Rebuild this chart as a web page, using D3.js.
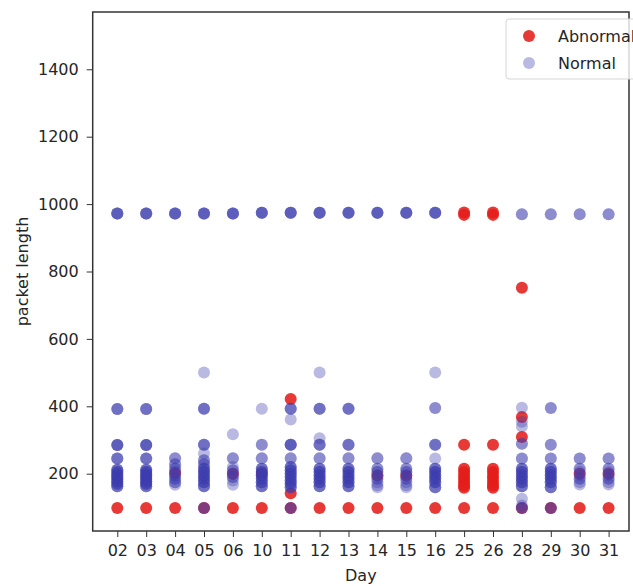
<!DOCTYPE html>
<html>
<head>
<meta charset="utf-8">
<script src="https://cdn.jsdelivr.net/npm/d3@7"></script>
<style>
    body { margin: 0; background: #fff; }
    text { font-family: "DejaVu Sans", sans-serif; fill: #262626; }
</style>
</head>
<body>
<svg id="scatter-chart" width="633" height="586"></svg>
<script>
const days = ["02", "03", "04", "05", "06", "10", "11", "12", "13", "14", "15", "16", "25", "26", "28", "29", "30", "31"];

const yTicks = [200, 400, 600, 800, 1000, 1200, 1400];

// abnormal packets: [day, packet length]
const abnormalPoints = [
    ["02", 98], ["03", 98], ["04", 98], ["05", 98], ["06", 98], ["10", 98], ["11", 98], ["12", 98], ["13", 98],
    ["14", 98], ["15", 98], ["16", 98], ["25", 98], ["26", 98], ["28", 98], ["29", 98], ["30", 98], ["31", 98],
    ["04", 202], ["06", 200], ["10", 200], ["14", 195], ["15", 195], ["30", 200], ["31", 200],
    ["11", 422], ["11", 142],
    ["25", 968], ["25", 975], ["25", 286], ["25", 215], ["25", 205], ["25", 195], ["25", 185], ["25", 175], ["25", 165], ["25", 158],
    ["26", 968], ["26", 975], ["26", 286], ["26", 215], ["26", 205], ["26", 195], ["26", 185], ["26", 175], ["26", 165], ["26", 158],
    ["28", 752], ["28", 368], ["28", 309]
];

// normal packets: [day, packet length, how many points overlap there]
const normalPoints = [
    ["02", 972, 4], ["02", 392, 3], ["02", 285, 4], ["02", 245, 3], ["02", 212, 3], ["02", 205, 3], ["02", 198, 3], ["02", 191, 3], ["02", 184, 3], ["02", 177, 3], ["02", 170, 3], ["02", 163, 3],
    ["03", 972, 4], ["03", 392, 3], ["03", 285, 4], ["03", 245, 3], ["03", 212, 3], ["03", 205, 3], ["03", 198, 3], ["03", 191, 3], ["03", 184, 3], ["03", 177, 3], ["03", 170, 3], ["03", 163, 3],
    ["04", 972, 4], ["04", 246, 2], ["04", 228, 2], ["04", 215, 2], ["04", 205, 1], ["04", 195, 2], ["04", 185, 2], ["04", 175, 2], ["04", 167, 1],
    ["05", 972, 4], ["05", 500, 1], ["05", 393, 3], ["05", 286, 3], ["05", 260, 1], ["05", 240, 2], ["05", 228, 2], ["05", 215, 3], ["05", 205, 3], ["05", 195, 3], ["05", 185, 3], ["05", 175, 3], ["05", 163, 3], ["05", 98, 2],
    ["06", 972, 4], ["06", 317, 1], ["06", 246, 2], ["06", 220, 1], ["06", 210, 2], ["06", 200, 1], ["06", 190, 2], ["06", 180, 1], ["06", 167, 1],
    ["10", 974, 4], ["10", 393, 1], ["10", 286, 2], ["10", 246, 2], ["10", 215, 3], ["10", 205, 3], ["10", 195, 3], ["10", 185, 3], ["10", 175, 3], ["10", 163, 3],
    ["11", 974, 4], ["11", 393, 3], ["11", 361, 1], ["11", 286, 4], ["11", 246, 2], ["11", 220, 3], ["11", 210, 3], ["11", 200, 3], ["11", 190, 3], ["11", 180, 3], ["11", 170, 3], ["11", 160, 3], ["11", 98, 2],
    ["12", 974, 4], ["12", 500, 1], ["12", 393, 3], ["12", 305, 1], ["12", 286, 3], ["12", 246, 2], ["12", 215, 3], ["12", 205, 3], ["12", 195, 3], ["12", 185, 3], ["12", 175, 3], ["12", 163, 3],
    ["13", 974, 4], ["13", 393, 3], ["13", 286, 3], ["13", 246, 2], ["13", 215, 3], ["13", 205, 3], ["13", 195, 3], ["13", 185, 3], ["13", 175, 3], ["13", 163, 3],
    ["14", 974, 4], ["14", 246, 2], ["14", 215, 2], ["14", 205, 2], ["14", 195, 1], ["14", 185, 2], ["14", 175, 1], ["14", 166, 1], ["14", 160, 1],
    ["15", 974, 4], ["15", 246, 2], ["15", 215, 2], ["15", 205, 2], ["15", 195, 1], ["15", 185, 2], ["15", 175, 1], ["15", 166, 1], ["15", 160, 1],
    ["16", 974, 4], ["16", 500, 1], ["16", 395, 2], ["16", 286, 3], ["16", 245, 1], ["16", 215, 3], ["16", 205, 3], ["16", 195, 3], ["16", 185, 3], ["16", 175, 3], ["16", 160, 3],
    ["28", 970, 2], ["28", 396, 1], ["28", 354, 1], ["28", 340, 1], ["28", 289, 2], ["28", 245, 2], ["28", 215, 3], ["28", 205, 3], ["28", 195, 3], ["28", 185, 3], ["28", 175, 3], ["28", 163, 3], ["28", 126, 1], ["28", 106, 1], ["28", 98, 2],
    ["29", 970, 2], ["29", 395, 2], ["29", 286, 2], ["29", 245, 2], ["29", 215, 3], ["29", 205, 3], ["29", 195, 3], ["29", 185, 3], ["29", 175, 3], ["29", 160, 3], ["29", 98, 2],
    ["30", 970, 2], ["30", 245, 2], ["30", 215, 2], ["30", 205, 1], ["30", 195, 1], ["30", 185, 2], ["30", 175, 1], ["30", 168, 1],
    ["31", 970, 2], ["31", 245, 2], ["31", 215, 2], ["31", 205, 1], ["31", 195, 1], ["31", 185, 2], ["31", 175, 1], ["31", 168, 1]
];

const seriesColors = {
    "Abnormal": "rgb(228, 30, 26)",
    "Normal": "rgb(60, 60, 175)"
};
const seriesOpacity = { "Abnormal": 0.88, "Normal": 0.36 };

const plot = { left: 92.7, right: 629, top: 12, bottom: 531 };
const radius = 6;

const svg = d3.select("#scatter-chart");

renderChart();

function renderChart() {
    const xScale = d3.scalePoint()
        .domain(days)
        .range([117.3, 608.6]);

    const yScale = d3.scaleLinear()
        .domain([30, 1570])
        .range([plot.bottom, plot.top]);

    // abnormal first, normal on top of it
    svg.append("g")
        .selectAll("circle")
        .data(abnormalPoints)
        .join("circle")
        .attr("cx", function (d) { return xScale(d[0]); })
        .attr("cy", function (d) { return yScale(d[1]); })
        .attr("r", radius)
        .style("fill", seriesColors["Abnormal"])
        .style("opacity", seriesOpacity["Abnormal"]);

    // expand overlap counts into separate circles
    let normalCircles = [];
    normalPoints.forEach(function (d) {
        for (let i = 0; i < d[2]; i++) normalCircles.push(d);
    });
    svg.append("g")
        .selectAll("circle")
        .data(normalCircles)
        .join("circle")
        .attr("cx", function (d) { return xScale(d[0]); })
        .attr("cy", function (d) { return yScale(d[1]); })
        .attr("r", radius)
        .style("fill", seriesColors["Normal"])
        .style("opacity", seriesOpacity["Normal"]);

    // x-axis
    svg.append("g")
        .attr("class", "axis")
        .attr("transform", `translate(0, ${plot.bottom})`)
        .call(d3.axisBottom(xScale).tickSize(6).tickPadding(8));

    // y-axis
    svg.append("g")
        .attr("class", "axis")
        .attr("transform", `translate(${plot.left}, 0)`)
        .call(d3.axisLeft(yScale).tickValues(yTicks).tickFormat(d3.format("d")).tickSize(6).tickPadding(8));

    svg.selectAll(".axis .domain").remove();
    svg.selectAll(".axis line").attr("stroke", "#333").attr("stroke-width", 1);
    svg.selectAll(".axis text")
        .style("font-size", "16px")
        .style("font-family", "DejaVu Sans, sans-serif")
        .attr("fill", "#262626");

    // frame
    svg.append("rect")
        .attr("x", plot.left)
        .attr("y", plot.top)
        .attr("width", plot.right - plot.left)
        .attr("height", plot.bottom - plot.top)
        .style("fill", "none")
        .style("stroke", "#333")
        .style("stroke-width", 1.5);

    // axis titles
    svg.append("text")
        .attr("x", (plot.left + plot.right) / 2)
        .attr("y", 581)
        .attr("text-anchor", "middle")
        .style("font-size", "16px")
        .text("Day");

    svg.append("text")
        .attr("transform", `translate(22, ${(plot.top + plot.bottom) / 2}) rotate(-90)`)
        .attr("dy", "0.35em")
        .attr("text-anchor", "middle")
        .style("font-size", "16px")
        .text("packet length");

    // legend, clipped by the right edge as in the original
    const legend = svg.append("g");
    legend.append("rect")
        .attr("x", 506)
        .attr("y", 19)
        .attr("width", 140)
        .attr("height", 60)
        .attr("rx", 3)
        .style("fill", "#fff")
        .style("fill-opacity", 0.8)
        .style("stroke", "#d6d6d6");

    ["Abnormal", "Normal"].forEach(function (name, i) {
        const cy = 36 + i * 27;
        legend.append("circle")
            .attr("cx", 529)
            .attr("cy", cy)
            .attr("r", radius)
            .style("fill", seriesColors[name])
            .style("opacity", seriesOpacity[name]);
        legend.append("text")
            .attr("x", 558)
            .attr("y", cy)
            .attr("dy", "0.35em")
            .style("font-size", "16px")
            .text(name);
    });
}
</script>
</body>
</html>
